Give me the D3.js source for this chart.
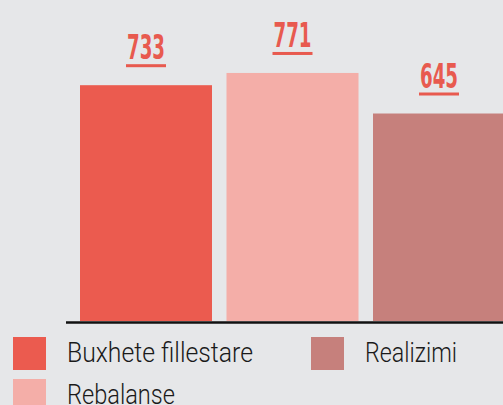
<!DOCTYPE html>
<html>
<head>
<meta charset="utf-8">
<script src="https://cdn.jsdelivr.net/npm/d3@7"></script>
<style>
  html, body { margin: 0; padding: 0; background: #e6e7e9; }
  svg { display: block; }
</style>
</head>
<body>
<svg id="chart" width="503" height="405"></svg>
<script>
// Budget bars: initial, rebalanced, executed.
const categories = ["Buxhete fillestare", "Rebalanse", "Realizimi"];
const values = [733, 771, 645];
const colors = ["#eb5b4f", "#f4aea8", "#c6807c"];
const labels = values.map(String);

const W = 503, H = 405;
const baseY = 321;

const svg = d3.select("#chart");

const x = d3.scaleBand()
  .domain(categories)
  .range([80, 505])
  .paddingInner(0.099)
  .paddingOuter(0);

const y = d3.scaleLinear()
  .domain([0, 771])
  .range([baseY, baseY - 771 * 0.3217]);

const color = d3.scaleOrdinal().domain(categories).range(colors);

// bars
svg.append("g")
  .selectAll("rect")
  .data(categories)
  .join("rect")
  .attr("x", d => x(d))
  .attr("width", x.bandwidth())
  .attr("y", (d, i) => y(values[i]))
  .attr("height", (d, i) => baseY - y(values[i]))
  .attr("fill", d => color(d));

// baseline
svg.append("line")
  .attr("x1", 66).attr("x2", W)
  .attr("y1", baseY + 1.5).attr("y2", baseY + 1.5)
  .attr("stroke", "#111").attr("stroke-width", 2.5);

// value labels with underline
const lab = svg.append("g").selectAll("g")
  .data(categories)
  .join("g")
  .attr("transform", (d, i) => `translate(${x(d) + x.bandwidth() / 2},${y(values[i])})`);

lab.append("text")
  .attr("y", -26)
  .attr("text-anchor", "middle")
  .attr("font-family", "'Liberation Sans Narrow', 'DejaVu Sans Condensed', Roboto, sans-serif")
  .attr("font-size", 33)
  .attr("font-weight", 700)
  .attr("fill", "#e85a4f")
  .attr("textLength", 38)
  .attr("lengthAdjust", "spacingAndGlyphs")
  .text((d, i) => labels[i]);

lab.append("rect")
  .attr("x", -20).attr("width", 40)
  .attr("y", -21).attr("height", 3)
  .attr("fill", "#e85a4f");

// legend
const legendPos = [
  { x: 13, y: 337 },
  { x: 13, y: 379 },
  { x: 311, y: 337 },
];
const legendWidths = [186, 108, 92];

const leg = svg.append("g").selectAll("g")
  .data(categories)
  .join("g")
  .attr("transform", (d, i) => `translate(${legendPos[i].x},${legendPos[i].y})`);

leg.append("rect")
  .attr("width", 33).attr("height", 33)
  .attr("fill", d => color(d));

leg.append("text")
  .attr("x", 54)
  .attr("y", 25)
  .attr("font-family", "Roboto, 'DejaVu Sans', sans-serif")
  .attr("font-size", 27)
  .attr("font-weight", 300)
  .attr("fill", "#1a1a1a")
  .attr("textLength", (d, i) => legendWidths[i])
  .attr("lengthAdjust", "spacingAndGlyphs")
  .text(d => d);
</script>
</body>
</html>
